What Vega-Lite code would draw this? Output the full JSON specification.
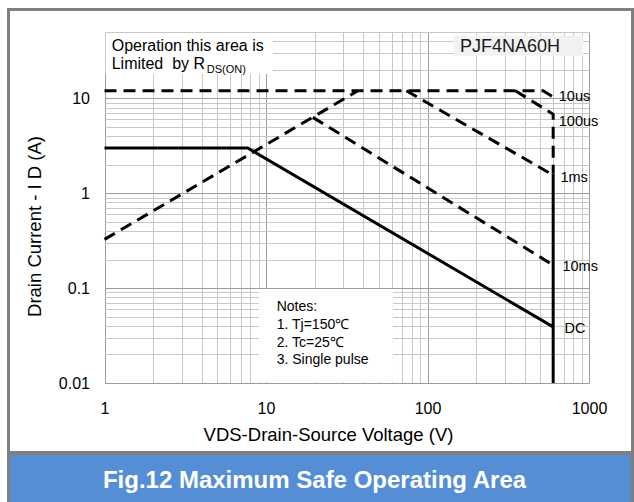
{
  "$schema": "https://vega.github.io/schema/vega-lite/v6.json",
  "padding": {"left": 7, "top": 8, "right": 0, "bottom": 0},
  "background": "white",
  "config": {"font": "Liberation Sans", "view": {"stroke": null}},
  "spacing": 0,
  "hconcat": [
    {
      "width": 3, "height": 494,
      "view": {"fill": "#7f7f7f", "stroke": null},
      "data": {"values": []},
      "mark": "rect",
      "encoding": {}
    },
    {
      "spacing": 7,
      "vconcat": [
        {
          "spacing": 13,
          "vconcat": [
            {
              "width": 621, "height": 3,
              "view": {"fill": "#7f7f7f", "stroke": null},
              "data": {"values": []},
              "mark": "rect",
              "encoding": {}
            },
            {
              "width": 621,
              "height": 351,
              "view": {"stroke": null},
              "layer": [
                {
                  "data": {"values": [
                    {"box": "limit", "v": 1.015, "v2": 11.05, "i": 18.0, "i2": 48.8},
                    {"box": "notes", "v": 9.05, "v2": 61.1, "i": 0.0102, "i2": 0.098},
                    {"box": "part", "v": 146, "v2": 918, "i": 28.1, "i2": 45.6}
                  ]},
                  "mark": {"type": "rect"},
                  "encoding": {
                    "x": {"field": "v", "type": "quantitative", "scale": {"type": "log", "domain": [1, 1000], "nice": false, "range": [94.5, 579]},
                      "axis": {
                        "values": [1,2,3,4,5,6,7,8,9,10,20,30,40,50,60,70,80,90,100,200,300,400,500,600,700,800,900,1000],
                        "grid": true,
                        "gridColor": {"condition": {"test": "abs(log(datum.value)/LN10 - round(log(datum.value)/LN10)) < 0.001", "value": "#9c9c9c"}, "value": "#c8c8c8"},
                        "gridWidth": 1,
                        "domain": false, "ticks": false,
                        "format": "~g",
                        "labelExpr": "abs(log(datum.value)/LN10 - round(log(datum.value)/LN10)) < 0.001 ? datum.label : ''",
                        "labelOverlap": false, "labelFlush": false,
                        "labelFontSize": 16, "labelColor": "#000000", "labelPadding": 17,
                        "title": "VDS-Drain-Source Voltage (V)",
                        "titleFontSize": 18.5, "titleFontWeight": "normal", "titleColor": "#000000",
                        "titlePadding": 9, "titleX": 318
                      }},
                    "x2": {"field": "v2"},
                    "y": {"field": "i", "type": "quantitative", "scale": {"type": "log", "domain": [0.01, 50], "nice": false},
                      "axis": {
                        "values": [0.01,0.02,0.03,0.04,0.05,0.06,0.07,0.08,0.09,0.1,0.2,0.3,0.4,0.5,0.6,0.7,0.8,0.9,1,2,3,4,5,6,7,8,9,10,20,30,40,50],
                        "offset": -94.5,
                        "grid": true,
                        "gridColor": {"condition": {"test": "abs(log(datum.value)/LN10 - round(log(datum.value)/LN10)) < 0.001", "value": "#9c9c9c"}, "value": "#c8c8c8"},
                        "gridWidth": 1,
                        "domain": false, "ticks": false,
                        "format": "~g",
                        "labelExpr": "abs(log(datum.value)/LN10 - round(log(datum.value)/LN10)) < 0.001 ? datum.label : ''",
                        "labelOverlap": false, "labelFlush": false,
                        "labelFontSize": 16, "labelColor": "#000000", "labelPadding": 15,
                        "title": "Drain Current - I D (A)",
                        "titleFontSize": 18.5, "titleFontWeight": "normal", "titleColor": "#000000",
                        "titlePadding": 14, "titleY": 194
                      }},
                    "y2": {"field": "i2"},
                    "color": {"field": "box", "type": "nominal", "scale": {"domain": ["limit", "notes", "part"], "range": ["#ffffff", "#ffffff", "#f2f2f2"]}, "legend": null}
                  }
                },
                {
                  "data": {"values": [
                    {"s": "rds", "o": 1, "v": 1, "i": 0.326},
                    {"s": "rds", "o": 2, "v": 37, "i": 12},
                    {"s": "10us", "o": 1, "v": 1, "i": 12},
                    {"s": "10us", "o": 2, "v": 520, "i": 12},
                    {"s": "10us", "o": 3, "v": 600, "i": 10.3},
                    {"s": "100us", "o": 1, "v": 350, "i": 12},
                    {"s": "100us", "o": 2, "v": 600, "i": 6.8},
                    {"s": "100us", "o": 3, "v": 600, "i": 1.6},
                    {"s": "1ms", "o": 1, "v": 74, "i": 12},
                    {"s": "1ms", "o": 2, "v": 600, "i": 1.55},
                    {"s": "10ms", "o": 1, "v": 19.5, "i": 6.3},
                    {"s": "10ms", "o": 2, "v": 600, "i": 0.175}
                  ]},
                  "mark": {"type": "line", "color": "#000000", "strokeWidth": 3, "strokeDash": [12, 7]},
                  "encoding": {
                    "x": {"field": "v", "type": "quantitative"},
                    "y": {"field": "i", "type": "quantitative"},
                    "detail": {"field": "s"},
                    "order": {"field": "o", "type": "quantitative"}
                  }
                },
                {
                  "data": {"values": [
                    {"s": "DC", "o": 1, "v": 1, "i": 3},
                    {"s": "DC", "o": 2, "v": 7.7, "i": 3},
                    {"s": "DC", "o": 3, "v": 600, "i": 0.039},
                    {"s": "BV", "o": 1, "v": 600, "i": 1.6},
                    {"s": "BV", "o": 2, "v": 600, "i": 0.01}
                  ]},
                  "mark": {"type": "line", "color": "#000000", "strokeWidth": 3},
                  "encoding": {
                    "x": {"field": "v", "type": "quantitative"},
                    "y": {"field": "i", "type": "quantitative"},
                    "detail": {"field": "s"},
                    "order": {"field": "o", "type": "quantitative"}
                  }
                },
                {
                  "data": {"values": [
                    {"t": "10us", "v": 650, "i": 10.4},
                    {"t": "100us", "v": 650, "i": 5.6},
                    {"t": "1ms", "v": 665, "i": 1.43},
                    {"t": "10ms", "v": 685, "i": 0.167},
                    {"t": "DC", "v": 705, "i": 0.0368}
                  ]},
                  "mark": {"type": "text", "align": "left", "baseline": "middle", "fontSize": 14.5, "color": "#000000"},
                  "encoding": {
                    "x": {"field": "v", "type": "quantitative"},
                    "y": {"field": "i", "type": "quantitative"},
                    "text": {"field": "t"}
                  }
                },
                {
                  "data": {"values": [
                    {"t": "Operation this area is", "v": 1.108, "i": 31.7},
                    {"t": "Limited\u00a0 by R", "v": 1.108, "i": 20.6}
                  ]},
                  "mark": {"type": "text", "align": "left", "baseline": "alphabetic", "fontSize": 16, "color": "#000000"},
                  "encoding": {
                    "x": {"field": "v", "type": "quantitative"},
                    "y": {"field": "i", "type": "quantitative"},
                    "text": {"field": "t"}
                  }
                },
                {
                  "data": {"values": [
                    {"t": "DS(ON)", "v": 4.3, "i": 18.7}
                  ]},
                  "mark": {"type": "text", "align": "left", "baseline": "alphabetic", "fontSize": 11, "color": "#000000"},
                  "encoding": {
                    "x": {"field": "v", "type": "quantitative"},
                    "y": {"field": "i", "type": "quantitative"},
                    "text": {"field": "t"}
                  }
                },
                {
                  "data": {"values": [
                    {"t": "PJF4NA60H", "v": 159, "i": 30.7}
                  ]},
                  "mark": {"type": "text", "align": "left", "baseline": "alphabetic", "fontSize": 18, "color": "#1a1a1a"},
                  "encoding": {
                    "x": {"field": "v", "type": "quantitative"},
                    "y": {"field": "i", "type": "quantitative"},
                    "text": {"field": "t"}
                  }
                },
                {
                  "data": {"values": [
                    {"t": "Notes:", "v": 11.65, "i": 0.0575},
                    {"t": "1. Tj=150℃", "v": 11.65, "i": 0.0368},
                    {"t": "2. Tc=25℃", "v": 11.65, "i": 0.0239},
                    {"t": "3. Single pulse", "v": 11.65, "i": 0.0157}
                  ]},
                  "mark": {"type": "text", "align": "left", "baseline": "alphabetic", "fontSize": 14, "color": "#000000"},
                  "encoding": {
                    "x": {"field": "v", "type": "quantitative"},
                    "y": {"field": "i", "type": "quantitative"},
                    "text": {"field": "t"}
                  }
                }
              ]
            }
          ]
        },
        {
          "spacing": 0,
          "vconcat": [
            {
              "width": 621, "height": 4,
              "view": {"fill": "#7f7f7f", "stroke": null},
              "data": {"values": []},
              "mark": "rect",
              "encoding": {}
            },
            {
              "width": 621,
              "height": 47,
              "view": {"fill": "#558ED5", "stroke": null},
              "data": {"values": [{"t": "Fig.12 Maximum Safe Operating Area"}]},
              "mark": {"type": "text", "fontSize": 24, "fontWeight": "bold", "color": "#ffffff", "dx": -6, "dy": 2},
              "encoding": {"text": {"field": "t"}}
            }
          ]
        }
      ]
    },
    {
      "width": 3, "height": 494,
      "view": {"fill": "#7f7f7f", "stroke": null},
      "data": {"values": []},
      "mark": "rect",
      "encoding": {}
    }
  ]
}
